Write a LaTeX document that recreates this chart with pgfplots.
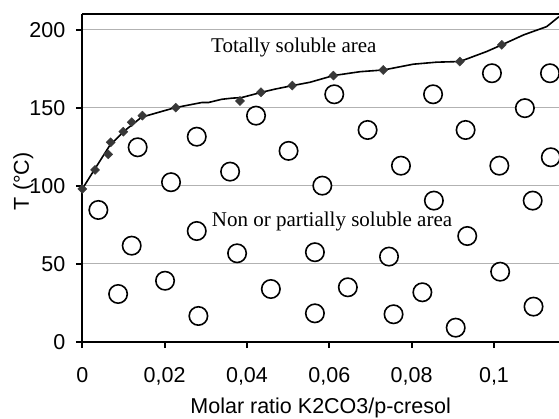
\documentclass[border=0pt]{standalone}
\usepackage{fontspec}
\setmainfont{Liberation Sans}
\newfontfamily\timesfont{Liberation Serif}
\usepackage{pgfplots}
\pgfplotsset{compat=1.18}
\begin{document}
\begin{tikzpicture}
\begin{axis}[
  at={(0,0)}, anchor=south west,
  scale only axis,
  width=476.7bp, height=327.4bp,
  xmin=0, xmax=0.11579,
  ymin=0, ymax=210,
  axis x line*=bottom, axis y line*=left,
  axis line style={line width=1.8bp, black},
  xtick={0,0.02,0.04,0.06,0.08,0.1},
  xticklabels={0,{0,02},{0,04},{0,06},{0,08},{0,1}},
  ytick={0,50,100,150,200},
  tick align=outside,
  major tick length=6.5bp,
  tick style={line width=1.8bp, black},
  /pgf/number format/assume math mode=true,
  tick label style={font=\fontsize{21.5bp}{24bp}\selectfont},
  xticklabel style={yshift=-16bp},
  yticklabel style={xshift=-7bp},
  ymajorgrids,
  grid style={line width=0.9bp, color=black!30},
  xlabel={Molar ratio K2CO3/p-cresol},
  ylabel={T (°C)},
  label style={font=\fontsize{21.5bp}{24bp}\selectfont},
  xlabel style={at={(axis description cs:0.5,0)}, anchor=base, yshift=-71.3bp},
  ylabel style={at={(axis description cs:0,0.49)}, anchor=center, rotate=0, yshift=59bp},
  clip=false,
]
\draw[line width=1.8bp, black] (rel axis cs:0,1) -- (rel axis cs:1,1);
% phase boundary curve
\addplot[black, line width=1.6bp, no marks] coordinates {
(0,98) (0.0031,111) (0.0067,126) (0.0100,134.7) (0.0144,144) (0.0177,146.5)
(0.0225,150.1) (0.029,153.4) (0.0306,153.4) (0.0339,155.5) (0.0363,156.2)
(0.0387,156.6) (0.0436,160) (0.0468,162) (0.0511,164.3) (0.0553,166.4)
(0.0610,170.7) (0.0675,173.2) (0.0732,174.3) (0.0804,178) (0.0861,179.3)
(0.0917,179.7) (0.0982,186.1) (0.1019,190.4) (0.1072,196.8) (0.1128,202.1)
(0.1158,208.5)
};
% measured points
\addplot[only marks, mark=square*, mark size=3.2bp,
  mark options={rotate=45, fill=black!78, draw=black!78}] coordinates {
(0,98) (0.0031,110.2) (0.0063,120.2) (0.0069,127.9) (0.00996,134.7)
(0.012,140.8) (0.0146,145) (0.0227,150.1) (0.0383,154.4) (0.0434,160)
(0.051,164.3) (0.061,170.7) (0.0731,174.3) (0.0917,179.7) (0.1019,190.4)
};
% non soluble points
\addplot[only marks, mark=*, mark size=9.2bp,
  mark options={fill=white, draw=black, line width=1.6bp}] coordinates {
(0.0039,84.5) (0.0087,30.6) (0.0120,61.6) (0.01345,124.7) (0.0201,39.1)
(0.02155,102.3) (0.0278,131.5) (0.0278,71.0) (0.0282,16.5) (0.0359,109.1)
(0.0376,56.7) (0.0422,145.0) (0.0458,33.8) (0.0501,122.4) (0.0565,57.4)
(0.0565,18.2) (0.0583,100.1) (0.0612,158.7) (0.0645,34.9) (0.0693,135.8)
(0.0745,54.6) (0.0756,17.6) (0.0774,112.9) (0.0826,31.7) (0.0852,158.7)
(0.0854,90.5) (0.0907,9.0) (0.0931,135.8) (0.0935,67.8) (0.0995,172.2)
(0.1013,112.9) (0.1015,44.9) (0.1075,149.8) (0.1094,90.5) (0.1096,22.5)
(0.1136,172.2) (0.1138,118.3)
};
\node[anchor=base west, inner sep=0pt, font=\timesfont\fontsize{21bp}{24bp}\selectfont]
  at (axis cs:0.03126,185.7) {Totally soluble area};
\node[anchor=base west, inner sep=0pt, font=\timesfont\fontsize{21bp}{24bp}\selectfont]
  at (axis cs:0.03143,73.8) {Non or partially soluble area};
\end{axis}
\pgfresetboundingbox
\path (-82.3bp,-77.3bp) rectangle (476.7bp,341.7bp);
\end{tikzpicture}
\end{document}
